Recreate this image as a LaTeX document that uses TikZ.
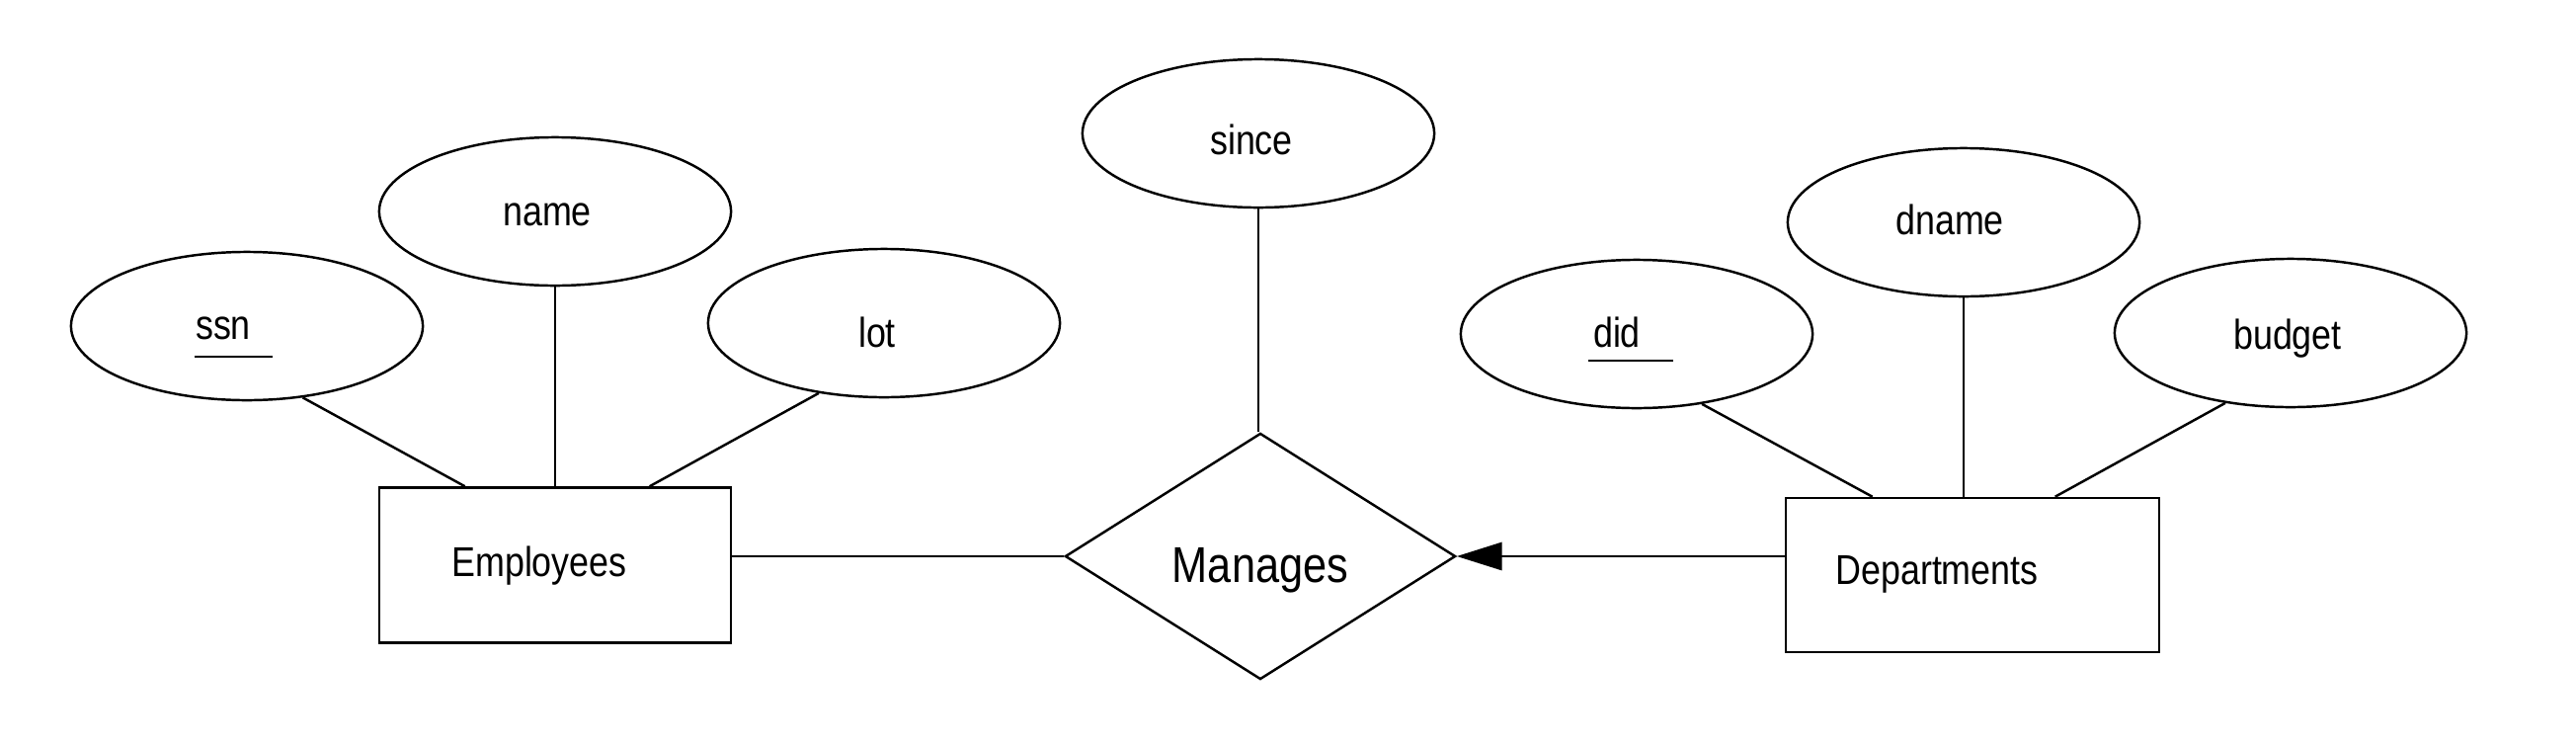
\documentclass[tikz,border=0pt]{standalone}
\usepackage{fontspec}
\setmainfont{Liberation Sans}[FakeStretch=0.85]
\usetikzlibrary{shapes.geometric,arrows.meta,calc}
\begin{document}
\begin{tikzpicture}[x=0.01cm,y=-0.01cm,
  line width=0.7pt,
  attr/.style={draw,ellipse,minimum width=3.56cm,minimum height=1.5cm,inner sep=0pt},
  entity/.style={draw,rectangle,inner sep=0pt},
  rel/.style={draw,diamond,minimum width=3.95cm,minimum height=2.49cm,inner sep=0pt},
  lbl/.style={anchor=base,inner sep=0pt,font=\fontsize{12}{14}\selectfont},
  biglbl/.style={anchor=base,inner sep=0pt,font=\fontsize{14.5}{17}\selectfont},
  keyline/.style={line width=0.6pt},
  arrowline/.style={-{Triangle[length=13pt,width=8pt]}}
]
\useasboundingbox (0,0) rectangle (2608,754);

% entities
\node[entity,minimum width=3.56cm,minimum height=1.57cm] (emp) at (562,572) {};
\node[entity,minimum width=3.78cm,minimum height=1.56cm] (dep) at (1997,582) {};
% relationship
\node[rel] (man) at (1276,563) {};

% attributes
\node[attr] (ssn)    at (250,330)  {};
\node[attr] (name)   at (562,214)  {};
\node[attr] (lot)    at (895,327)  {};
\node[attr] (since)  at (1274,135) {};
\node[attr] (did)    at (1657,338) {};
\node[attr] (dname)  at (1988,225) {};
\node[attr] (budget) at (2319,337) {};

% texts
\node[lbl] (ssnT)    at (226,343)  {ssn};
\node[lbl] (nameT)   at (554,228)  {name};
\node[lbl] (lotT)    at (888,351)  {lot};
\node[lbl] (sinceT)  at (1267,156) {since};
\node[lbl] (didT)    at (1637,351) {did};
\node[lbl] (dnameT)  at (1974,237) {dname};
\node[lbl] (budgetT) at (2316,353) {budget};
\node[lbl] (empT)    at (546,583)  {Employees};
\node[lbl] (depT)    at (1961,591) {Departments};
\node[biglbl] (manT) at (1276,589) {Manages};

% key underlines
\draw[keyline] ($(ssnT.base west)+(0,18)$) -- ++(79,0);
\draw[keyline] ($(didT.base west)+(-4,14)$) -- ++(86,0);

% attribute connectors
\draw (ssn.-52) -- ($(emp.north west)+(88,0)$);
\draw (name.south) -- (name.south |- emp.north);
\draw (lot.-133.7) -- ($(emp.north west)+(275,0)$);
\draw (since.south) -- (since.south |- man.north);
\draw (did.-47.5) -- ($(dep.north west)+(89,0)$);
\draw (dname.south) -- (dname.south |- dep.north);
\draw (budget.-133.8) -- ($(dep.north west)+(274,0)$);

% relationship connectors
\draw (man.west) -- (man.west -| emp.east);
\draw[arrowline] (man.east -| dep.west) -- (man.east);
\end{tikzpicture}
\end{document}
